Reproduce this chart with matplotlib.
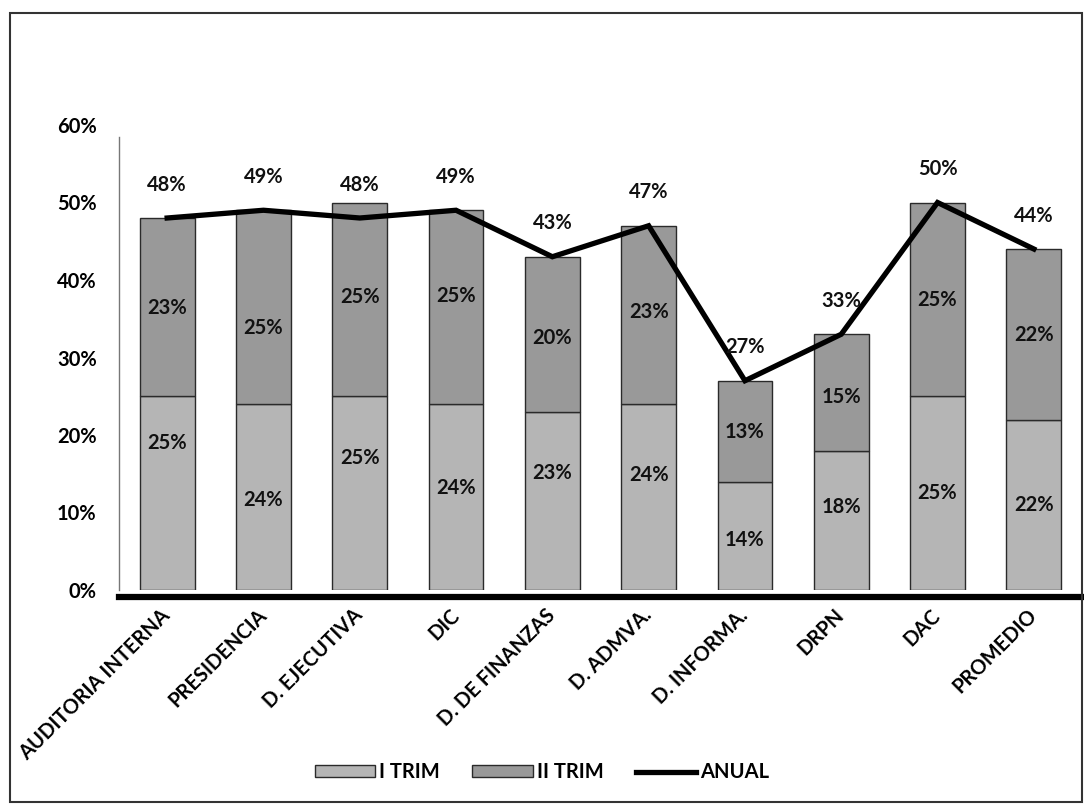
import matplotlib.pyplot as plt
import numpy as np
from matplotlib.patches import Rectangle
from matplotlib.ticker import PercentFormatter

# Data (percent)
categorias = ['AUDITORIA INTERNA', 'PRESIDENCIA', 'D. EJECUTIVA', 'DIC', 'D. DE FINANZAS',
              'D. ADMVA.', 'D. INFORMA.', 'DRPN', 'DAC', 'PROMEDIO']
i_trim = [25, 24, 25, 24, 23, 24, 14, 18, 25, 22]
ii_trim = [23, 25, 25, 25, 20, 23, 13, 15, 25, 22]
anual = [48, 49, 48, 49, 43, 47, 27, 33, 50, 44]

# where the labels sit inside the bars (hand placed in the original)
i_label_y = [19.0, 11.6, 17.0, 13.2, 15.1, 14.8, 6.5, 10.7, 12.5, 11.0]
ii_label_y = [36.4, 33.8, 37.8, 37.9, 32.5, 35.9, 20.4, 24.9, 37.4, 32.9]

plt.rcParams['font.family'] = ['Lato', 'DejaVu Sans']
plt.rcParams['font.weight'] = 'bold'
fs = 14.5

fig = plt.figure(figsize=(10.84, 8.08), dpi=100)
ax = fig.add_axes([119 / 1084, 1 - 590 / 808, 963 / 1084, 465 / 808])

# spines first: set_position resets the ticks
for s in ['top', 'right']:
    ax.spines[s].set_visible(False)
ax.spines['left'].set_color('#777777')
ax.spines['left'].set_linewidth(1.0)
ax.spines['bottom'].set_linewidth(4.5)
ax.spines['bottom'].set_color('black')
ax.spines['bottom'].set_position(('outward', 5))

x = np.arange(len(categorias))
w = 0.57
b1 = ax.bar(x, i_trim, w, color='#b5b5b5', edgecolor='#2a2a2a', linewidth=1.0, label='I TRIM')
b2 = ax.bar(x, ii_trim, w, bottom=i_trim, color='#999999', edgecolor='#2a2a2a', linewidth=1.0, label='II TRIM')
ln, = ax.plot(x, anual, color='black', linewidth=3.8, solid_joinstyle='miter', label='ANUAL', zorder=5)

for xi, v, y in zip(x, i_trim, i_label_y):
    ax.text(xi, y, f'{v}%', ha='center', va='center', fontsize=fs, fontweight='bold', color='#111111', zorder=6)
for xi, v, y in zip(x, ii_trim, ii_label_y):
    ax.text(xi, y, f'{v}%', ha='center', va='center', fontsize=fs, fontweight='bold', color='#111111', zorder=6)
for xi, v in zip(x, anual):
    ax.text(xi, v + 4.3, f'{v}%', ha='center', va='center', fontsize=fs, fontweight='bold', color='#111111', zorder=6)

ax.set_xlim(-0.5, 9.5)
ax.set_ylim(0, 60)
ax.set_yticks(np.arange(0, 61, 10))
ax.yaxis.set_major_formatter(PercentFormatter(decimals=0))
ax.spines['left'].set_bounds(0, 58.5)
ax.tick_params(axis='y', length=0, pad=16, labelsize=fs)
ax.tick_params(axis='x', length=0, pad=11, labelsize=fs)
ax.set_xticks(x)
ax.set_xticklabels(categorias, rotation=45, ha='right', va='center', rotation_mode='anchor')

fig.legend([b1, b2, ln], ['I TRIM', 'II TRIM', 'ANUAL'], loc='center',
           bbox_to_anchor=(0.5, 1 - 772 / 808), ncol=3, frameon=False,
           fontsize=fs, handlelength=3.0, handleheight=0.5, columnspacing=1.6, handletextpad=0.2)

# outer frame of the chart
fig.patches.append(Rectangle((10 / 1084, 1 - 802 / 808), 1072 / 1084, 789 / 808,
                             transform=fig.transFigure, fill=False, edgecolor='#333333', linewidth=1.5))

plt.savefig('out.png', dpi=100)
